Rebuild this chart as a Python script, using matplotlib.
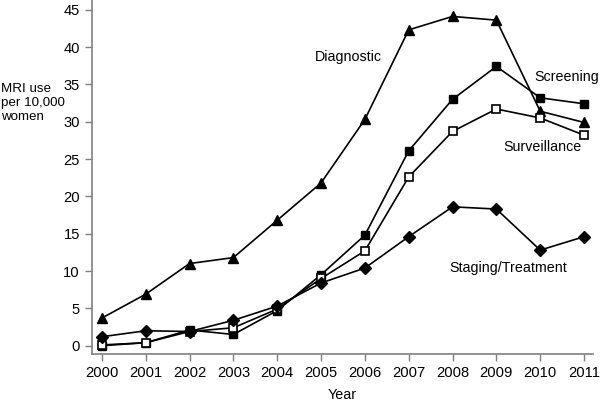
'''
MRI use per 10,000 women by indication, 2000-2011
'''

import matplotlib
matplotlib.use('Agg')
import matplotlib.pyplot as plt

years = [2000, 2001, 2002, 2003, 2004, 2005, 2006, 2007, 2008, 2009, 2010, 2011]
diagnostic = [3.7, 6.9, 11.0, 11.8, 16.8, 21.8, 30.3, 42.3, 44.1, 43.6, 31.4, 29.9]
screening = [0.0, 0.4, 2.1, 1.5, 4.7, 9.5, 14.8, 26.1, 33.0, 37.4, 33.2, 32.4]
surveillance = [0.1, 0.4, 1.9, 2.4, 4.9, 9.0, 12.7, 22.6, 28.7, 31.7, 30.5, 28.2]
staging = [1.2, 2.0, 1.9, 3.4, 5.3, 8.4, 10.4, 14.6, 18.6, 18.3, 12.8, 14.6]

plt.rcParams['font.family'] = ['Liberation Sans', 'DejaVu Sans']
plt.rcParams['font.size'] = 10.3

fig = plt.figure(figsize=(6, 4.04), dpi=100)
ax = fig.add_axes([0.153, 0.124, 0.835, 0.876])

lw = 1.2
ax.plot(years, diagnostic, color='black', lw=lw, marker='^', ms=7)
ax.plot(years, screening, color='black', lw=lw, marker='s', ms=6)
ax.plot(years, surveillance, color='black', lw=lw, marker='s', ms=5.5,
        markerfacecolor='white', markeredgewidth=1.2)
ax.plot(years, staging, color='black', lw=lw, marker='D', ms=6)

# series labels
ax.text(2004.86, 38.6, 'Diagnostic', ha='left', va='center')
ax.text(2009.86, 36.0, 'Screening', ha='left', va='center')
ax.text(2009.16, 26.6, 'Surveillance', ha='left', va='center')
ax.text(2007.93, 10.4, 'Staging/Treatment', ha='left', va='center')

ax.set_xlim(1999.77, 2011.2)
ax.set_ylim(-1.1, 46.3)
ax.set_xticks(years)
ax.set_yticks(range(0, 50, 5))

for side in ['top', 'right']:
    ax.spines[side].set_visible(False)
for side in ['left', 'bottom']:
    ax.spines[side].set_color('#808080')
    ax.spines[side].set_linewidth(1.2)
ax.tick_params(colors='#808080', labelcolor='black', labelsize=10.6,
               length=5, width=1, direction='out')

ax.set_xlabel('Year', labelpad=6)
fig.text(0.002, 0.745, 'MRI use\nper 10,000\nwomen', ha='left', va='center',
         linespacing=1.25, fontsize=9.6)

fig.savefig('out.png', dpi=100)
